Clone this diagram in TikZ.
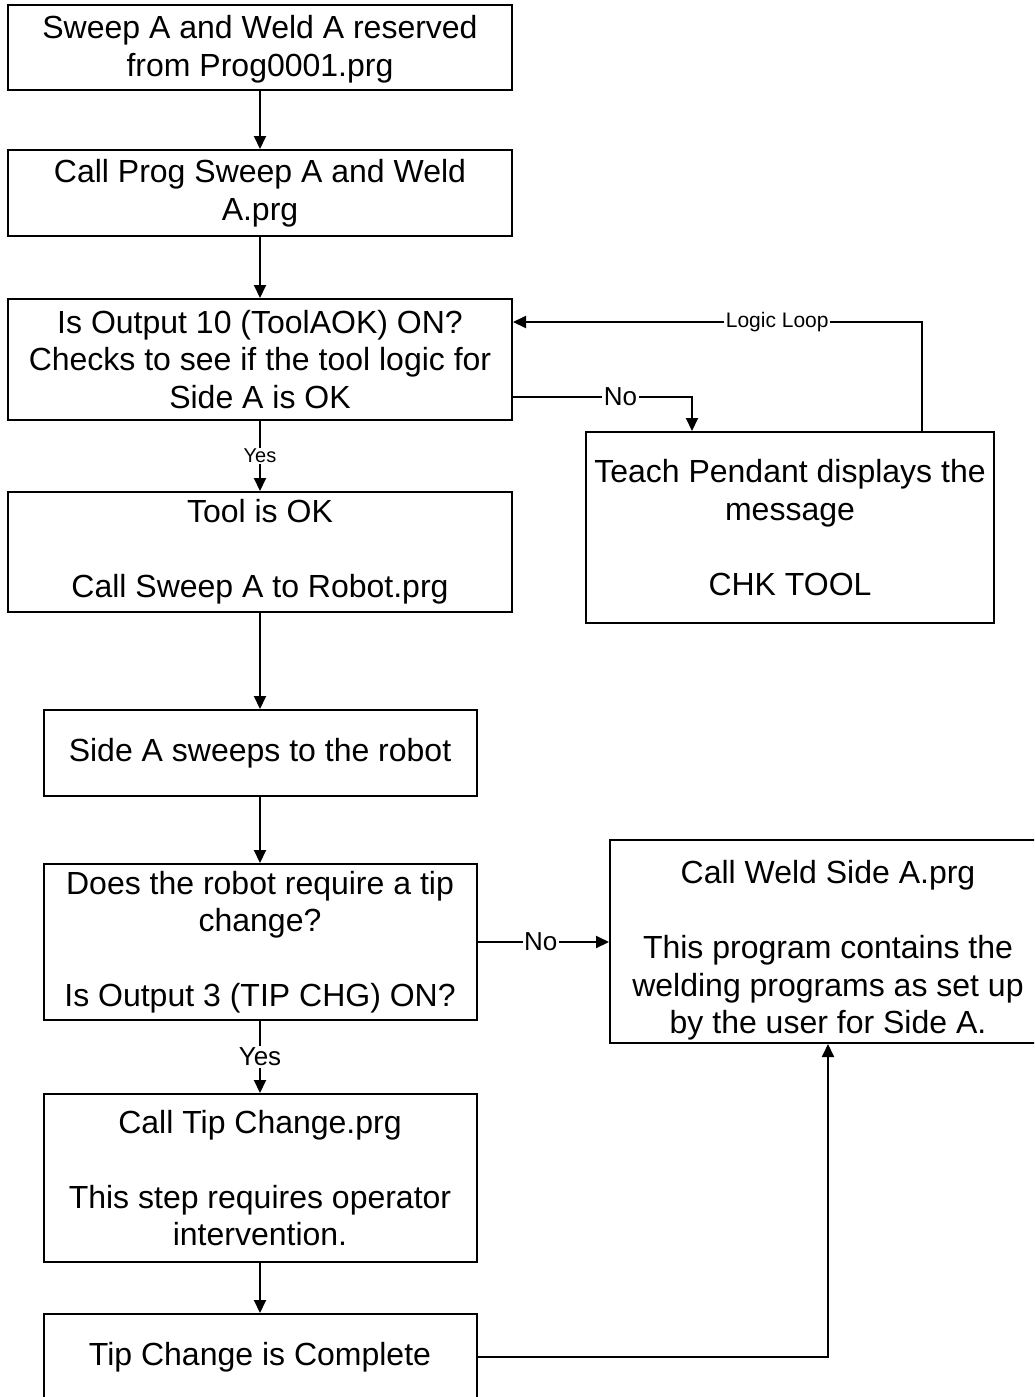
\documentclass[tikz,border=0pt]{standalone}
\usepackage{fontspec}
\setmainfont{Liberation Sans}
\usetikzlibrary{arrows.meta,calc}
\begin{document}
\begin{tikzpicture}[x=1pt,y=-1pt,
  box/.style={draw, line width=2pt, inner sep=0pt, align=center,
    font=\fontsize{32}{37.5}\selectfont},
  arr/.style={line width=2pt, -{Triangle[length=13pt,width=12pt]}},
  lbl/.style={fill=white, inner sep=1.5pt, font=\fontsize{#1}{#1}\selectfont},
]
\useasboundingbox (0,0) rectangle (1034,1397);
\clip (0,0) rectangle (1034,1397);

\node[box, minimum width=504pt, minimum height=85pt] (b1) at (260,47.5)
  {\rule{0pt}{27pt}Sweep A and Weld A reserved\\from Prog0001.prg};
\node[box, minimum width=504pt, minimum height=86pt] (b2) at (260,193)
  {Call Prog Sweep A and Weld\\A.prg};
\node[box, minimum width=504pt, minimum height=121pt] (b3) at (260,359.5)
  {Is Output 10 (ToolAOK) ON?\\Checks to see if the tool logic for\\Side A is OK};
\node[box, minimum width=504pt, minimum height=120pt] (b4) at (260,552)
  {Tool is OK\\[37.5pt]Call Sweep A to Robot.prg};
\node[box, minimum width=408pt, minimum height=191pt] (teach) at (790,527.5)
  {Teach Pendant displays the\\message\\[37.5pt]CHK TOOL};
\node[box, minimum width=433pt, minimum height=86pt] (b5) at (260,753)
  {Side A sweeps to the robot};
\node[box, minimum width=433pt, minimum height=156pt] (b6) at (260,942)
  {Does the robot require a tip\\change?\\[37.5pt]Is Output 3 (TIP CHG) ON?};
\node[box, minimum width=436pt, minimum height=203pt] (weld) at (828,941.5)
  {\rule{0pt}{41pt}Call Weld Side A.prg\\[37.5pt]This program contains the\\welding programs as set up\\by the user for Side A.};
\node[box, minimum width=433pt, minimum height=168pt] (b7) at (260,1178)
  {Call Tip Change.prg\\[37.5pt]This step requires operator\\intervention.};
\node[box, minimum width=433pt, minimum height=86pt] (b8) at (260,1357)
  {Tip Change is Complete};

\draw[arr] (b1) -- (b2);
\draw[arr] (b2) -- (b3);
\draw[arr] (b3) -- node[lbl=20]{Yes} (b4);
\draw[arr] (b4) -- (b5);
\draw[arr] (b5) -- (b6);
\draw[arr] (b6) -- node[lbl=26]{Yes} (b7);
\draw[arr] (b7) -- (b8);

\draw[arr] ([yshift=24pt]b3.south east) -| node[lbl=26, pos=0.3]{No}
  ([xshift=107pt]teach.north west);
\draw[arr] ([xshift=-73pt]teach.north east) |- node[lbl=21, pos=0.677]{Logic Loop}
  ([yshift=-24pt]b3.north east);
\draw[arr] (b6.east) -- node[lbl=26, pos=0.48]{No} (b6.east -| weld.west);
\draw[arr] (b8.east) -| (weld.south);
\end{tikzpicture}
\end{document}
